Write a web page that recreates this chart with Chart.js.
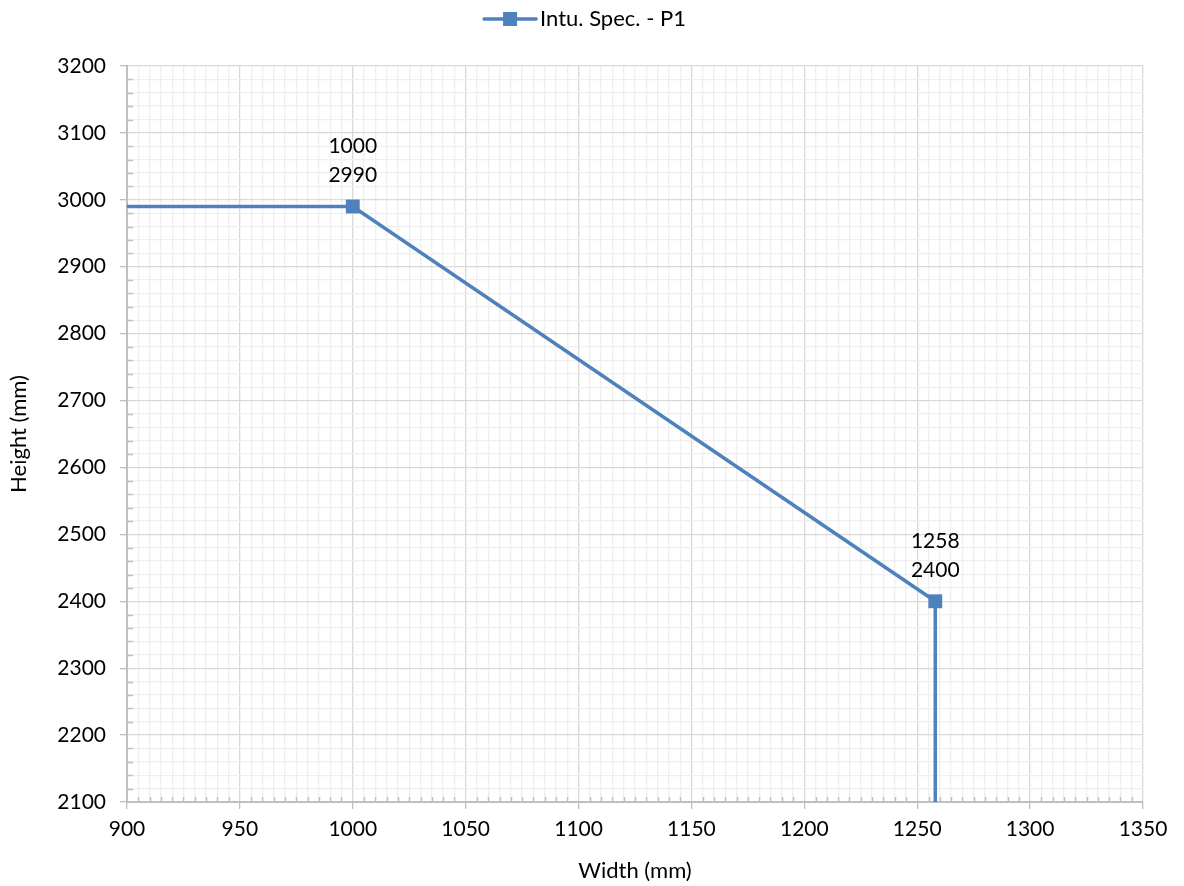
<!DOCTYPE html>
<html>
<head>
<meta charset="utf-8">
<script src="https://cdn.jsdelivr.net/npm/chart.js@4/dist/chart.umd.min.js"></script>
<style>
  html, body { margin: 0; padding: 0; background: #fff; }
  #wrap { width: 1184px; height: 886px; }
</style>
</head>
<body>
<div id="wrap"><canvas id="c"></canvas></div>
<script>
// data
const seriesName = "Intu. Spec. - P1";
const widths = [900, 1000, 1258, 1258];
const heights = [2990, 2990, 2400, 2100];
const xTitle = "Width (mm)";
const yTitle = "Height (mm)";
const xMin = 900, xMax = 1350, xMajor = 50, xMinor = 5;
const yMin = 2100, yMax = 3200, yMajor = 100, yMinor = 20;

const blue = "#4f81bd";
const FONT = "Lato, 'Open Sans', sans-serif";
const FS = 21;

// points with a marker and a label (the two ends run off the plot)
const hasMarker = (i) => i > 0 && i < widths.length - 1;

// Excel-like legend: line with a square marker, then the name
const legendBox = {
    id: "legendBox",
    afterDraw(chart) {
        const ctx = chart.ctx;
        ctx.save();
        ctx.font = "22px " + FONT;
        const tw = ctx.measureText(seriesName).width;
        const sw = 52, gap = 4;
        const x0 = chart.width / 2 - (sw + gap + tw) / 2 - 7;
        const cy = 19;
        ctx.strokeStyle = blue; ctx.lineWidth = 3.5; ctx.lineCap = "round";
        ctx.beginPath(); ctx.moveTo(x0, cy); ctx.lineTo(x0 + sw, cy); ctx.stroke();
        ctx.fillStyle = blue; ctx.fillRect(x0 + sw / 2 - 7, cy - 7, 14, 14);
        ctx.fillStyle = "#000";
        ctx.textAlign = "left"; ctx.textBaseline = "middle";
        ctx.fillText(seriesName, x0 + sw + gap, cy);
        ctx.restore();
    }
};

// short inner tick marks at the minor steps
const minorTicks = {
    id: "minorTicks",
    afterDraw(chart) {
        const ctx = chart.ctx;
        const xs = chart.scales.x, ys = chart.scales.y;
        ctx.save();
        ctx.strokeStyle = "#bfbfbf";
        ctx.lineWidth = 1.5;
        ctx.beginPath();
        xs.ticks.forEach(t => {
            if (t.value % xMajor === 0) return;
            const px = Math.round(xs.getPixelForValue(t.value)) + 0.5;
            ctx.moveTo(px, ys.bottom);
            ctx.lineTo(px, ys.bottom - 5);
        });
        ys.ticks.forEach(t => {
            if (t.value % yMajor === 0) return;
            const py = Math.round(ys.getPixelForValue(t.value)) + 0.5;
            ctx.moveTo(xs.left, py);
            ctx.lineTo(xs.left + 6, py);
        });
        ctx.stroke();
        ctx.restore();
    }
};

// value labels above the marked points
const pointLabels = {
    id: "pointLabels",
    afterDatasetsDraw(chart) {
        const ctx = chart.ctx;
        const meta = chart.getDatasetMeta(0);
        ctx.save();
        ctx.font = FS + "px " + FONT;
        ctx.fillStyle = "#000";
        ctx.textAlign = "center";
        ctx.textBaseline = "middle";
        meta.data.forEach((pt, i) => {
            if (!hasMarker(i)) return;
            ctx.fillText(String(widths[i]), pt.x, pt.y - 60);
            ctx.fillText(String(heights[i]), pt.x, pt.y - 31);
        });
        ctx.restore();
    }
};

const majorOrMinor = (major, minor, step) => (c) =>
    (c.tick && c.tick.value % step === 0) ? major : minor;

new Chart(document.getElementById("c"), {
    type: "scatter",
    data: {
        datasets: [{
            label: seriesName,
            data: widths.map((w, i) => ({ x: w, y: heights[i] })),
            showLine: true,
            borderColor: blue,
            backgroundColor: blue,
            borderWidth: 3.5,
            pointStyle: "rect",
            pointRadius: (c) => hasMarker(c.dataIndex) ? 9.8 : 0,
            pointHoverRadius: (c) => hasMarker(c.dataIndex) ? 9.8 : 0,
            pointBorderWidth: 0,
            tension: 0
        }]
    },
    options: {
        responsive: true,
        maintainAspectRatio: false,
        animation: false,
        layout: { padding: { left: 0, right: 41, top: 66, bottom: 0 } },
        plugins: {
            tooltip: { enabled: false },
            legend: { display: false }
        },
        scales: {
            x: {
                type: "linear",
                min: xMin, max: xMax,
                afterFit: (s) => { s.height = 84; },
                ticks: {
                    stepSize: xMinor,
                    autoSkip: false,
                    maxRotation: 0,
                    color: "#000",
                    font: { family: FONT, size: FS },
                    padding: 8,
                    callback: (v) => v % xMajor === 0 ? String(v) : ""
                },
                grid: {
                    color: majorOrMinor("#d9d9d9", "#efefef", xMajor),
                    lineWidth: 1.3,
                    tickColor: majorOrMinor("#bfbfbf", "rgba(0,0,0,0)", xMajor),
                    tickLength: 7
                },
                border: { color: "#bfbfbf", width: 2 },
                title: {
                    display: true, text: xTitle, color: "#000",
                    font: { family: FONT, size: 22 },
                    padding: { top: 0, bottom: 2 }
                }
            },
            y: {
                type: "linear",
                min: yMin, max: yMax,
                afterFit: (s) => { s.width = 127; },
                ticks: {
                    stepSize: yMinor,
                    autoSkip: false,
                    color: "#000",
                    font: { family: FONT, size: FS },
                    padding: 14,
                    callback: (v) => v % yMajor === 0 ? String(v) : ""
                },
                grid: {
                    color: majorOrMinor("#d9d9d9", "#efefef", yMajor),
                    lineWidth: 1.3,
                    tickColor: majorOrMinor("#bfbfbf", "rgba(0,0,0,0)", yMajor),
                    tickLength: 7
                },
                border: { color: "#bfbfbf", width: 2 },
                title: {
                    display: true, text: yTitle, color: "#000",
                    font: { family: FONT, size: 22 },
                    padding: { top: 6, bottom: 0 }
                }
            }
        }
    },
    plugins: [minorTicks, pointLabels, legendBox]
});
</script>
</body>
</html>
